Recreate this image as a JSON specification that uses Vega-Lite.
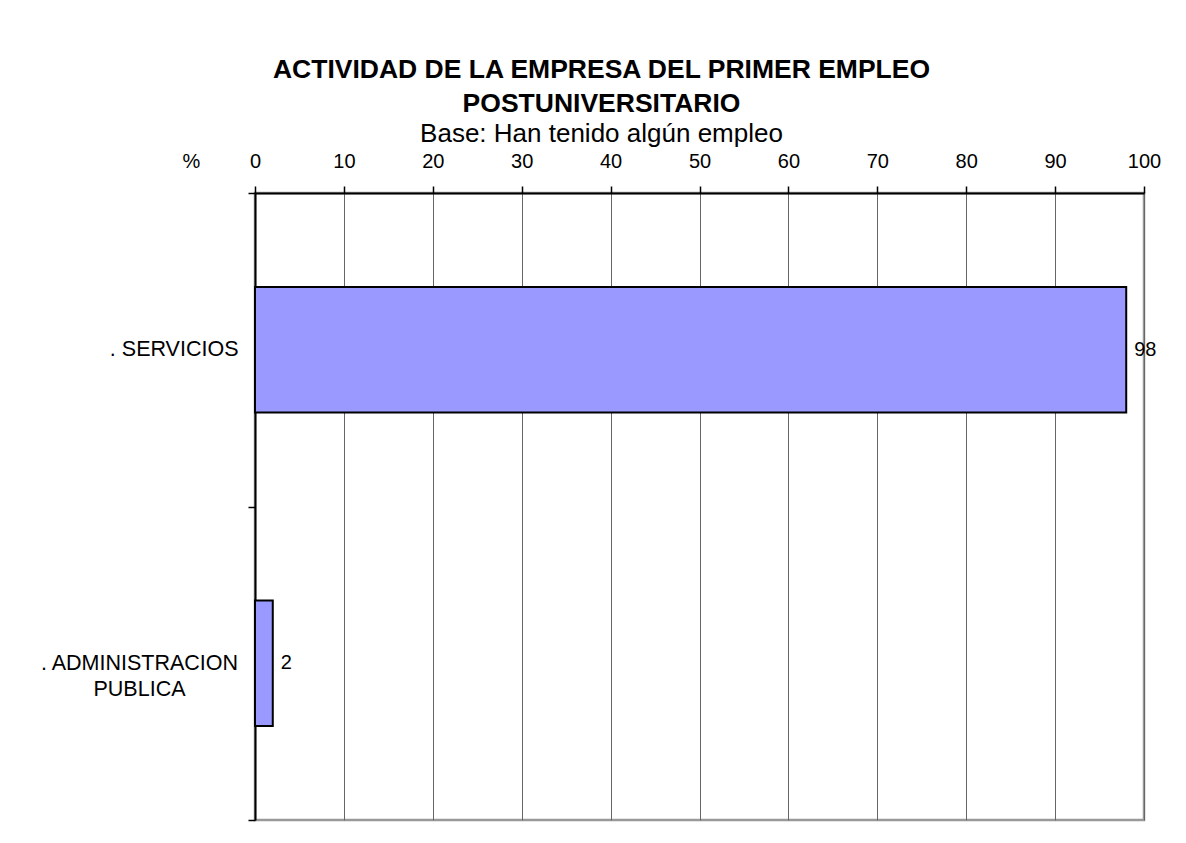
{
  "$schema": "https://vega.github.io/schema/vega-lite/v6.json",
  "width": 889,
  "height": 627,
  "autosize": {"type": "none"},
  "padding": {"left": 255, "top": 193, "right": 42, "bottom": 23},
  "background": "white",
  "title": {
    "text": ["ACTIVIDAD DE LA EMPRESA DEL PRIMER EMPLEO", "POSTUNIVERSITARIO"],
    "subtitle": "Base: Han tenido algún empleo",
    "anchor": "middle",
    "frame": "group",
    "dx": -98,
    "offset": 4,
    "font": "Liberation Sans",
    "fontSize": 26.5,
    "fontWeight": "bold",
    "lineHeight": 34,
    "color": "black",
    "subtitleFont": "Liberation Sans",
    "subtitleFontSize": 26,
    "subtitleColor": "black",
    "subtitlePadding": 4
  },
  "data": {
    "values": [
      {"actividad": ". SERVICIOS", "pct": 98},
      {"actividad": ". ADMINISTRACION PUBLICA", "pct": 2}
    ]
  },
  "encoding": {
    "y": {
      "field": "actividad",
      "type": "nominal",
      "sort": null,
      "scale": {"paddingInner": 0, "paddingOuter": 0},
      "axis": {
        "title": null,
        "domainColor": "black",
        "domainWidth": 2,
        "tickColor": "black",
        "tickWidth": 1.5,
        "tickSize": 7,
        "tickBand": "extent",
        "grid": false,
        "labelFont": "Liberation Sans",
        "labelFontSize": 21.5,
        "labelColor": "black",
        "labelLineHeight": 26,
        "labelLimit": 400,
        "labelExpr": "datum.value == '. ADMINISTRACION PUBLICA' ? ['. ADMINISTRACION', 'PUBLICA'] : datum.value",
        "labelAlign": {"condition": {"test": "datum.value == '. ADMINISTRACION PUBLICA'", "value": "center"}, "value": "right"},
        "labelPadding": {"condition": {"test": "datum.value == '. ADMINISTRACION PUBLICA'", "value": 109}, "value": 10}
      }
    },
    "x": {
      "field": "pct",
      "type": "quantitative",
      "scale": {"domain": [0, 100], "nice": false},
      "axis": {
        "orient": "top",
        "values": [0, 10, 20, 30, 40, 50, 60, 70, 80, 90, 100],
        "title": "%",
        "titleX": -73,
        "titleY": -26,
        "titleAlign": "left",
        "titleBaseline": "alphabetic",
        "titleFont": "Liberation Sans",
        "titleFontSize": 20,
        "titleFontWeight": "normal",
        "titleColor": "black",
        "domainColor": "black",
        "domainWidth": 2,
        "tickColor": "black",
        "tickWidth": 1.5,
        "tickSize": 7,
        "grid": true,
        "gridColor": "#666666",
        "gridWidth": 1,
        "gridOpacity": 1,
        "labelFont": "Liberation Sans",
        "labelFontSize": 20,
        "labelColor": "black",
        "labelBaseline": "alphabetic",
        "labelPadding": 19,
        "labelFlush": false,
        "labelOverlap": false
      }
    }
  },
  "layer": [
    {"mark": {"type": "bar", "height": {"band": 0.4}, "fill": "#9999ff", "stroke": "black", "strokeWidth": 2}},
    {
      "mark": {"type": "text", "align": "left", "baseline": "middle", "dx": 8, "font": "Liberation Sans", "fontSize": 20, "color": "black"},
      "encoding": {"text": {"field": "pct", "type": "quantitative"}}
    }
  ],
  "config": {
    "view": {"stroke": "#999999", "strokeWidth": 2.5},
    "font": "Liberation Sans"
  }
}
